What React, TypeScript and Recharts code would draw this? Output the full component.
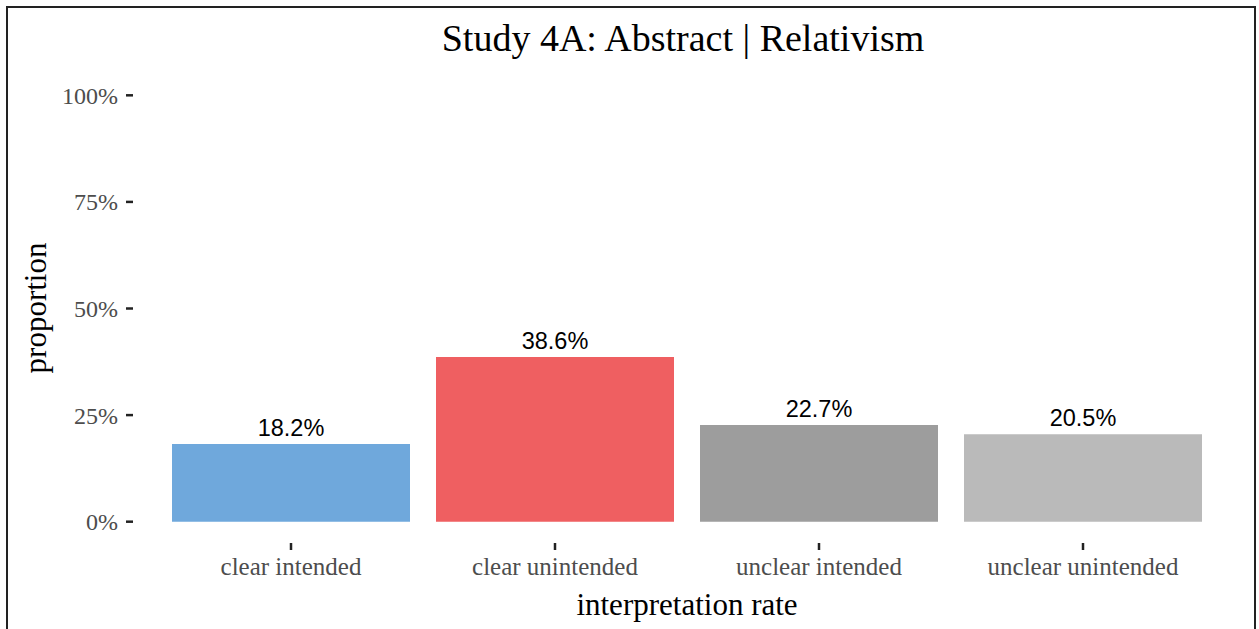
import React from 'react';
import { BarChart, Bar, XAxis, YAxis, Cell, LabelList } from 'recharts';

// values
const categories = ['clear intended', 'clear unintended', 'unclear intended', 'unclear unintended'];
const proportions = [18.2, 38.6, 22.7, 20.5];
const yTicks = [0, 25, 50, 75, 100];
const barColors = ['#6fa8dc', '#ef5f61', '#9d9d9d', '#bababa'];

const data = categories.map((name, i) => ({ name, value: proportions[i] }));

const serif = '"Liberation Serif", "Times New Roman", serif';
const sans = '"Liberation Sans", Arial, sans-serif';

export default function App() {
  return (
    <div style={{ position: 'absolute', left: 0, top: 0, width: 1259, height: 629, overflow: 'hidden', background: '#fff' }}>
      {/* outer frame, bottom edge cut off like the reference */}
      <div
        style={{
          position: 'absolute',
          left: 6,
          top: 6,
          width: 1246,
          height: 660,
          border: '2.5px solid #222',
        }}
      />
      <div style={{ position: 'absolute', left: 0, top: 0 }}>
        <BarChart width={1259} height={629} data={data} margin={{ top: 74, right: 18, bottom: 0, left: 0 }}>
          <XAxis
            dataKey="name"
            interval={0}
            height={86}
            axisLine={false}
            tickSize={7}
            tickMargin={7}
            tickLine={{ stroke: '#222', strokeWidth: 2.5 }}
            padding={{ left: 26, right: 26 }}
            tick={{ fontFamily: serif, fontSize: 25, fill: '#4d4d4d' }}
          />
          <YAxis
            type="number"
            domain={[-5, 105]}
            ticks={yTicks}
            allowDataOverflow
            width={133}
            axisLine={false}
            tickSize={7}
            tickMargin={8}
            tickLine={{ stroke: '#222', strokeWidth: 2.5 }}
            tickFormatter={(v: number) => `${v}%`}
            tick={{ fontFamily: serif, fontSize: 24, fill: '#4d4d4d' }}
          />
          <Bar dataKey="value" barSize={238} isAnimationActive={false}>
            {data.map((d, i) => (
              <Cell key={d.name} fill={barColors[i]} />
            ))}
            <LabelList
              dataKey="value"
              position="top"
              offset={8}
              formatter={(v: number) => `${v.toFixed(1)}%`}
              style={{ fontFamily: sans, fontSize: 23.5, fill: '#000' }}
            />
          </Bar>
        </BarChart>
      </div>
      <svg width={1259} height={629} style={{ position: 'absolute', left: 0, top: 0, pointerEvents: 'none' }}>
        <text x={683} y={51} textAnchor="middle" fontFamily={serif} fontSize={38} fill="#000">
          Study 4A: Abstract | Relativism
        </text>
        <text x={687} y={615} textAnchor="middle" fontFamily={serif} fontSize={31} fill="#000">
          interpretation rate
        </text>
        <text
          x={46}
          y={308}
          textAnchor="middle"
          fontFamily={serif}
          fontSize={31}
          fill="#000"
          transform="rotate(-90, 46, 308)"
        >
          proportion
        </text>
      </svg>
    </div>
  );
}
